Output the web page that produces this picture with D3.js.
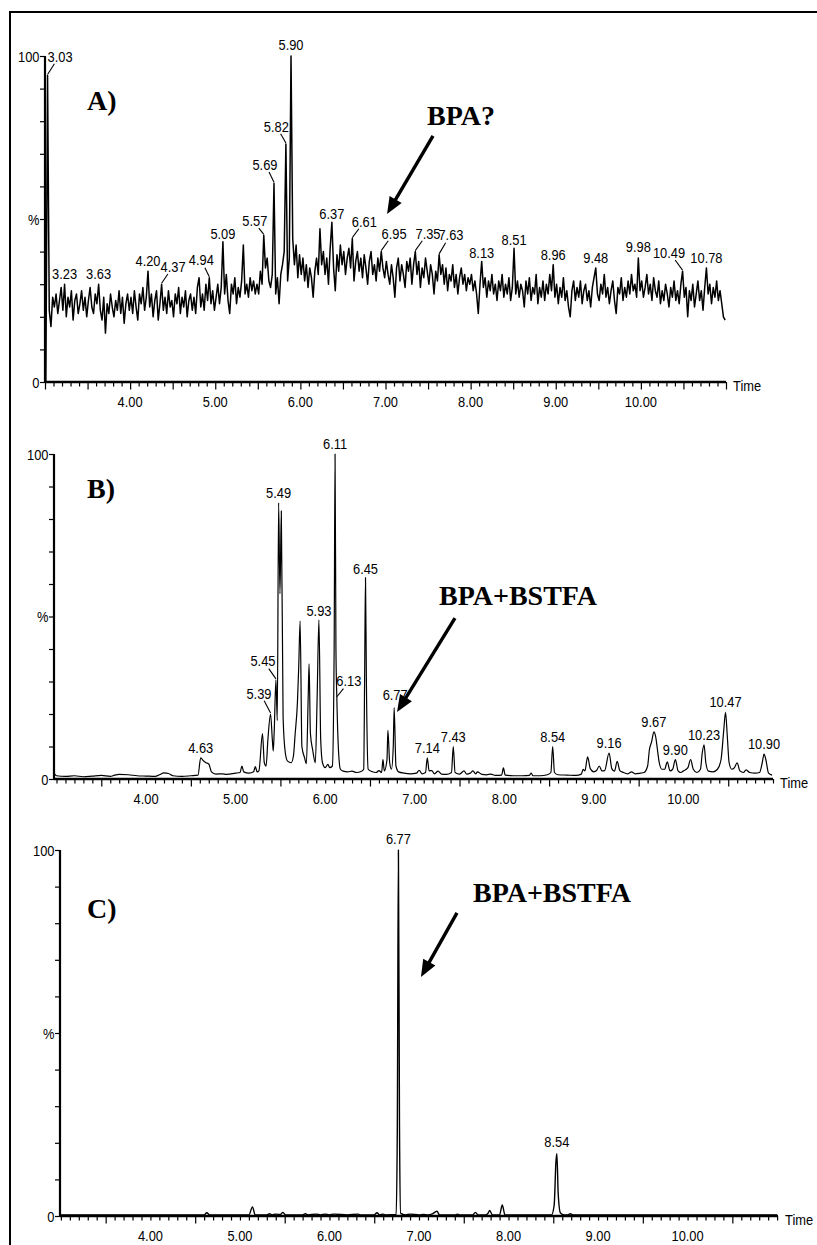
<!DOCTYPE html>
<html><head><meta charset="utf-8">
<script src="https://cdnjs.cloudflare.com/ajax/libs/d3/7.8.5/d3.min.js"></script>
<style>html,body{margin:0;padding:0;background:#fff;}svg{display:block;}</style>
</head><body>
<script>
// ---------------- DATA ----------------
const xTickValues = [4, 5, 6, 7, 8, 9, 10];
const xTickLabels = ["4.00", "5.00", "6.00", "7.00", "8.00", "9.00", "10.00"];
const yTickValues = [0, 50, 100];
const yTickLabels = ["0", "%", "100"];
const panelNames = ["A)", "B)", "C)"];
const annotationTexts = ["BPA?", "BPA+BSTFA", "BPA+BSTFA"];

// Panel A: TIC scans (scan interval 0.02 min, first scan 3.01 min), relative intensity %
const aScanStart = 3.01, aScanStep = 0.02;
const aValues = [
 0,94,22,17,26,23,27,21,25,29,22,30,20,26,23,28,19,25,27,21,24,28,22,26,20,
 25,29,23,21,27,24,30,22,19,26,15,24,21,27,23,20,25,22,28,21,26,18,24,27,22,
 26,21,28,23,19,27,24,29,22,26,34,23,27,20,25,28,19,24,30,22,26,21,28,23,25,
 20,27,24,29,21,26,23,28,20,25,27,22,26,21,29,32,23,27,22,30,25,32,24,28,22,
 26,30,24,29,43,27,33,25,21,30,27,32,24,29,26,31,42,27,30,26,32,28,31,27,30,
 27,34,30,45,35,38,31,29,33,61,27,32,24,33,36,40,73,31,38,100,44,36,42,32,39,
 33,38,31,36,29,35,32,26,34,38,33,47,36,40,33,38,30,41,49,35,28,39,34,42,36,
 40,33,38,41,35,44,31,37,40,34,38,32,39,35,30,37,40,33,36,31,38,34,40,35,32,
 37,33,30,36,32,26,35,38,31,36,33,29,37,34,38,30,36,40,33,37,29,35,32,38,34,
 30,36,33,27,34,31,39,33,36,30,35,28,33,31,36,29,33,27,32,35,30,33,28,32,30,
 33,28,31,27,21,30,37,29,32,26,31,28,33,27,30,25,31,28,33,26,30,27,32,25,29,
 41,27,31,26,30,28,23,31,27,32,25,29,27,33,24,29,26,31,25,30,27,33,28,36,26,
 30,24,29,26,32,25,28,23,20,28,31,25,29,26,31,24,28,30,25,28,23,29,32,35,27,
 25,30,27,33,26,29,24,28,31,25,21,29,27,32,25,29,26,31,27,33,28,30,26,38,28,
 31,26,29,33,27,30,25,32,28,26,31,24,28,25,30,27,23,29,26,31,25,28,24,30,34,
 26,29,20,28,25,30,23,27,31,25,28,22,29,35,27,30,24,29,26,31,25,28,24,20,19
];
const aPeaks = [
 ["3.03",3.03,94],["3.23",3.23,30],["3.63",3.63,30],["4.20",4.21,34],["4.37",4.37,30],
 ["4.94",4.93,32],["5.09",5.09,43],["5.57",5.57,45],["5.69",5.69,61],["5.82",5.83,73],
 ["5.90",5.89,100],["6.37",6.37,49],["6.61",6.61,44],["6.95",6.95,40],["7.35",7.35,40],
 ["7.63",7.63,39],["8.13",8.13,37],["8.51",8.51,41],["8.96",8.97,36],["9.48",9.47,35],
 ["9.98",9.97,38],["10.49",10.49,34],["10.78",10.77,35]
];

// Panel B: [time (min), relative intensity %]
const bPoints = [
 [2.98,1.5],[3.0,1.0],[3.1,0.8],[3.2,1.0],[3.3,0.7],[3.4,0.9],[3.5,1.1],[3.6,0.8],[3.65,1.2],[3.7,1.4],
 [3.8,1.3],[3.9,1.0],[4.0,0.9],[4.1,0.8],[4.15,1.3],[4.2,1.9],[4.25,1.7],[4.3,1.0],[4.4,0.8],[4.5,1.0],
 [4.58,1.2],[4.61,6.5],[4.64,5.6],[4.67,5.0],[4.70,4.6],[4.73,2.2],[4.78,1.5],[4.85,1.6],[4.9,1.4],[5.0,1.8],
 [5.05,2.0],[5.07,4.0],[5.09,2.2],[5.15,1.8],[5.20,2.2],[5.22,3.8],[5.24,2.2],[5.26,2.5],[5.30,14],[5.32,5],
 [5.34,4],[5.36,12],[5.39,20],[5.41,12],[5.42,8.6],[5.43,14],[5.45,30.5],[5.465,18],[5.48,85],[5.495,57],
 [5.51,82.5],[5.53,19],[5.555,8],[5.58,5.5],[5.62,5],[5.645,7],[5.665,14],[5.69,23.5],[5.705,35],[5.72,48.6],
 [5.74,10],[5.77,6.5],[5.79,4.7],[5.81,25],[5.82,35.4],[5.835,14],[5.86,9],[5.89,5],[5.91,25],[5.93,49],
 [5.95,12],[5.97,5],[6.00,3.5],[6.03,4.5],[6.05,3.5],[6.08,4.0],[6.10,40],[6.11,100],[6.12,40],[6.13,25],
 [6.15,8],[6.17,3],[6.20,2.4],[6.25,2.2],[6.30,2.4],[6.35,2.0],[6.40,2.3],[6.43,3.0],[6.44,30],[6.45,62],
 [6.46,30],[6.48,3],[6.52,2.3],[6.57,2.0],[6.60,2.6],[6.63,2.0],[6.645,6],[6.66,2.5],[6.69,6],[6.70,15],
 [6.72,5],[6.74,3],[6.76,10],[6.77,22],[6.79,4],[6.82,2.2],[6.88,1.8],[6.95,1.6],[7.02,1.8],[7.05,2.7],
 [7.08,1.6],[7.12,2],[7.14,6.5],[7.16,2.5],[7.19,2.6],[7.22,1.6],[7.26,2.4],[7.30,1.5],[7.35,1.4],[7.41,2],
 [7.43,10],[7.45,2],[7.50,1.5],[7.55,2.5],[7.58,1.5],[7.62,1.8],[7.65,2.5],[7.68,1.6],[7.70,2.2],[7.75,1.4],
 [7.80,1.3],[7.85,1.5],[7.90,1.1],[7.97,1.2],[7.99,3.4],[8.01,1.2],[8.1,1.0],[8.2,1.0],[8.28,1.1],[8.30,1.8],
 [8.32,1.0],[8.4,1.0],[8.48,1.3],[8.52,2],[8.54,10],[8.56,2],[8.60,1.3],[8.7,1.2],[8.8,1.1],[8.86,1.5],
 [8.88,3],[8.90,2.5],[8.93,6.8],[8.96,3.2],[9.00,2.2],[9.03,2.6],[9.06,4],[9.09,2.5],[9.12,2.6],[9.17,8],
 [9.20,3.2],[9.23,2.4],[9.26,5.4],[9.29,2.6],[9.33,2],[9.38,1.6],[9.42,2.2],[9.46,1.6],[9.52,1.8],[9.56,2],
 [9.60,4],[9.62,9],[9.645,11.5],[9.67,14.5],[9.69,13],[9.71,9],[9.73,5],[9.76,3],[9.79,3],[9.82,5.3],
 [9.85,2.5],[9.88,3],[9.91,6],[9.94,2.5],[9.97,2],[10.00,2.5],[10.05,3.5],[10.08,6],[10.11,3],[10.15,2],
 [10.19,3],[10.21,8],[10.23,10.5],[10.25,5],[10.28,2.4],[10.33,2.2],[10.38,3],[10.42,6],[10.45,15],[10.47,20.5],
 [10.49,13],[10.51,5],[10.54,3],[10.57,3.5],[10.60,5],[10.63,2.5],[10.67,2],[10.70,2.8],[10.74,2],[10.80,1.8],
 [10.85,2],[10.88,5],[10.90,7.7],[10.92,6],[10.95,1.8],[10.99,1.2]
];
const bPeaks = [
 ["4.63",4.61,6.5],["5.39",5.39,20],["5.45",5.45,30.5],["5.49",5.48,85],["5.93",5.93,49],
 ["6.11",6.11,100],["6.13",6.13,25],["6.45",6.45,62],["6.77",6.77,22],["7.14",7.14,6.5],
 ["7.43",7.43,10],["8.54",8.54,10],["9.16",9.17,8],["9.67",9.67,14.5],["9.90",9.91,6],
 ["10.23",10.23,10.5],["10.47",10.47,20.5],["10.90",10.90,7.7]
];

// Panel C: [time (min), relative intensity %]
const cPoints = [
 [2.99,0.3],[4.60,0.3],[4.63,0.9],[4.66,0.3],[5.10,0.3],[5.14,2.5],[5.17,0.3],[5.30,0.3],[5.33,0.6],[5.36,0.3],
 [5.40,0.5],[5.45,0.4],[5.48,1.0],[5.51,0.3],[5.70,0.3],[5.73,0.6],[5.76,0.3],[5.85,0.5],[5.90,0.3],[5.95,0.5],
 [6.0,0.3],[6.05,0.5],[6.2,0.3],[6.32,0.5],[6.35,0.3],[6.50,0.3],[6.53,0.9],[6.56,0.3],[6.60,0.5],[6.63,0.3],
 [6.745,0.4],[6.758,25],[6.77,100],[6.782,25],[6.795,0.7],[6.85,0.3],[6.9,0.5],[7.0,0.3],[7.05,0.4],[7.10,0.3],
 [7.15,0.6],[7.2,1.3],[7.23,0.3],[7.40,0.3],[7.43,0.5],[7.46,0.3],[7.60,0.3],[7.63,1.0],[7.66,0.3],[7.74,0.3],
 [7.77,0.7],[7.79,1.5],[7.82,0.3],[7.90,0.3],[7.93,3.0],[7.96,0.3],[8.2,0.3],[8.48,0.3],[8.51,3],[8.53,15],
 [8.54,17],[8.555,6],[8.58,0.8],[8.62,0.3],[8.66,0.3],[8.69,0.6],[8.72,0.3],[11.0,0.3]
];
const cPeaks = [["6.77",6.77,100],["8.54",8.54,17]];

// ---------------- LAYOUT ----------------
const W = 817, H = 1245;
const layouts = [
 {x0:45, x1:726, yTop:56,  yBot:382,  dom:[3.0, 11.0],   longEvery:0.5},
 {x0:54, x1:773, yTop:454, yBot:779,  dom:[2.972, 11.0], longEvery:1},
 {x0:60, x1:778, yTop:850, yBot:1216, dom:[2.99, 11.01], longEvery:1}
];
const labelOffsets = [
 {"3.03":[12.5,-19.6,1],"4.37":[11.4,-18,1],"4.94":[-8,-17.8,1],"5.57":[-9,-15,1],"5.69":[-9,-19,1],
  "5.82":[-9.6,-18,1],"6.61":[12,-17.6,1],"6.95":[12.8,-18.6,1],"7.35":[12.7,-18.6,1],"7.63":[11.8,-20,1],
  "10.49":[-13.6,-19,1],"5.09":[0,-8.5,0],"6.37":[0,-8.5,0],"8.13":[0,-8.5,0],"8.51":[0,-9.3,0],"5.90":[0,-12,0],
  "9.98":[0,-12,0]},
 {"5.39":[-11.6,-21,1],"5.45":[-13,-19,1],"6.13":[12,-17,1],"6.77":[1,-13.5,0],"5.93":[0,-9,0],"6.45":[0,-9.5,0]},
 {"6.77":[0,-12,0],"8.54":[0,-12,0]}
];
const panelLabelPos = [[3.493,83.4],[3.340,86.5],[3.292,81.4]];
const annotationPos = [[7.488,78.8],[7.271,53.5],[7.603,85.8]];
const arrowPos = [
 [[7.558,75.5],[7.018,51.5]],
 [[7.449,49.5],[6.802,20.6]],
 [[7.424,82.8],[7.022,65.3]]
];

const svg = d3.select("body").append("svg").attr("width", W).attr("height", H);
svg.append("rect").attr("x",0).attr("y",0).attr("width",W).attr("height",H).attr("fill","#fff");
svg.append("rect").attr("x",10).attr("y",12).attr("width",830).attr("height",1260)
   .attr("fill","none").attr("stroke","#000").attr("stroke-width",2);

const SANS = "'Liberation Sans', Arial, sans-serif";
const SERIF = "'Liberation Serif', 'Times New Roman', serif";
const FS = 15.5, SX = 0.83;

function sansText(g, x, y, txt, anchor) {
  g.append("text").attr("transform", `translate(${x},${y}) scale(${SX},1)`)
   .attr("text-anchor", anchor).attr("font-family", SANS).attr("font-size", FS)
   .attr("fill", "#000").text(txt);
}

const aSeries = aValues.map((v, i) => [aScanStart + i * aScanStep, v]);
const seriesAll = [aSeries, bPoints, cPoints];
const peaksAll = [aPeaks, bPeaks, cPeaks];
const curves = [d3.curveLinear, d3.curveMonotoneX, d3.curveMonotoneX];
const widths = [1.5, 1.2, 1.4];

layouts.forEach((L, pi) => {
  const g = svg.append("g");
  const x = d3.scaleLinear().domain(L.dom).range([L.x0, L.x1]);
  const y = d3.scaleLinear().domain([0, 100]).range([L.yBot, L.yTop]);

  const line = d3.line().x(d => x(d[0])).y(d => y(d[1])).curve(curves[pi]);
  g.append("path").datum(seriesAll[pi]).attr("d", line)
   .attr("fill", "none").attr("stroke", "#000").attr("stroke-width", widths[pi])
   .attr("stroke-linejoin", "round");

  // y axis
  const yMinor = d3.range(0, 101, 10);
  const yAxis = d3.axisLeft(y).tickValues(yMinor).tickSize(5).tickFormat("");
  const ya = g.append("g").attr("transform", `translate(${L.x0},0)`).call(yAxis);
  ya.select(".domain").attr("stroke-width", 2.2).attr("d", `M0,${L.yTop}V${L.yBot}`);
  ya.selectAll(".tick line").attr("stroke-width", 1.2);
  yTickValues.forEach((v, i) => sansText(g, L.x0 - 5.5, y(v) + 5.5, yTickLabels[i], "end"));

  // x axis
  const [d0, d1] = L.dom;
  const minor = d3.range(Math.ceil(d0 * 10), Math.floor(d1 * 10) + 1).map(k => k / 10);
  const xAxis = d3.axisBottom(x).tickValues(minor).tickSizeOuter(0).tickFormat("").tickSize(4);
  const xa = g.append("g").attr("transform", `translate(0,${L.yBot})`).call(xAxis);
  xa.select(".domain").attr("stroke-width", 2.4).attr("d", `M${L.x0},0H${L.x1}`);
  xa.selectAll(".tick line").attr("stroke-width", 1.2)
    .attr("y2", d => {
      const r = Math.round(d * 10) % 10;
      return (r === 5 || (L.longEvery === 0.5 && r === 0)) ? 7.5 : 4.5;
    });
  xTickValues.forEach((v, i) => sansText(g, x(v), L.yBot + 24.5, xTickLabels[i], "middle"));
  sansText(g, L.x1 + 7, L.yBot + 9, "Time", "start");

  // peak labels
  peaksAll[pi].forEach(p => {
    const [lab, t, v] = p;
    const px = x(t), py = y(v);
    const off = labelOffsets[pi][lab] || [0, -10.5, 0];
    const cx = px + off[0], cy = py + off[1];
    sansText(g, cx, cy + 5.6, lab, "middle");
    if (off[2]) {
      g.append("line").attr("x1", px + off[0] * 0.55).attr("y1", cy + 7.8)
       .attr("x2", px).attr("y2", py - 1).attr("stroke", "#000").attr("stroke-width", 1.1);
    }
  });

  g.append("text").attr("x", x(panelLabelPos[pi][0])).attr("y", y(panelLabelPos[pi][1]))
   .attr("font-family", SERIF).attr("font-weight", "bold").attr("font-size", 28).text(panelNames[pi]);
  g.append("text").attr("x", x(annotationPos[pi][0])).attr("y", y(annotationPos[pi][1]))
   .attr("font-family", SERIF).attr("font-weight", "bold").attr("font-size", 28).text(annotationTexts[pi]);

  const [s, e] = arrowPos[pi];
  const sx = x(s[0]), sy = y(s[1]), ex = x(e[0]), ey = y(e[1]);
  const ang = Math.atan2(ey - sy, ex - sx);
  const hl = 17, hw = 7;
  const bx = ex - hl * Math.cos(ang), by = ey - hl * Math.sin(ang);
  g.append("line").attr("x1", sx).attr("y1", sy).attr("x2", bx + 2 * Math.cos(ang)).attr("y2", by + 2 * Math.sin(ang))
   .attr("stroke", "#000").attr("stroke-width", 3.4);
  const nx = -Math.sin(ang), ny = Math.cos(ang);
  g.append("path").attr("d", `M${ex},${ey}L${bx + nx * hw},${by + ny * hw}L${bx - nx * hw},${by - ny * hw}Z`)
   .attr("fill", "#000");
});
</script>
</body></html>
